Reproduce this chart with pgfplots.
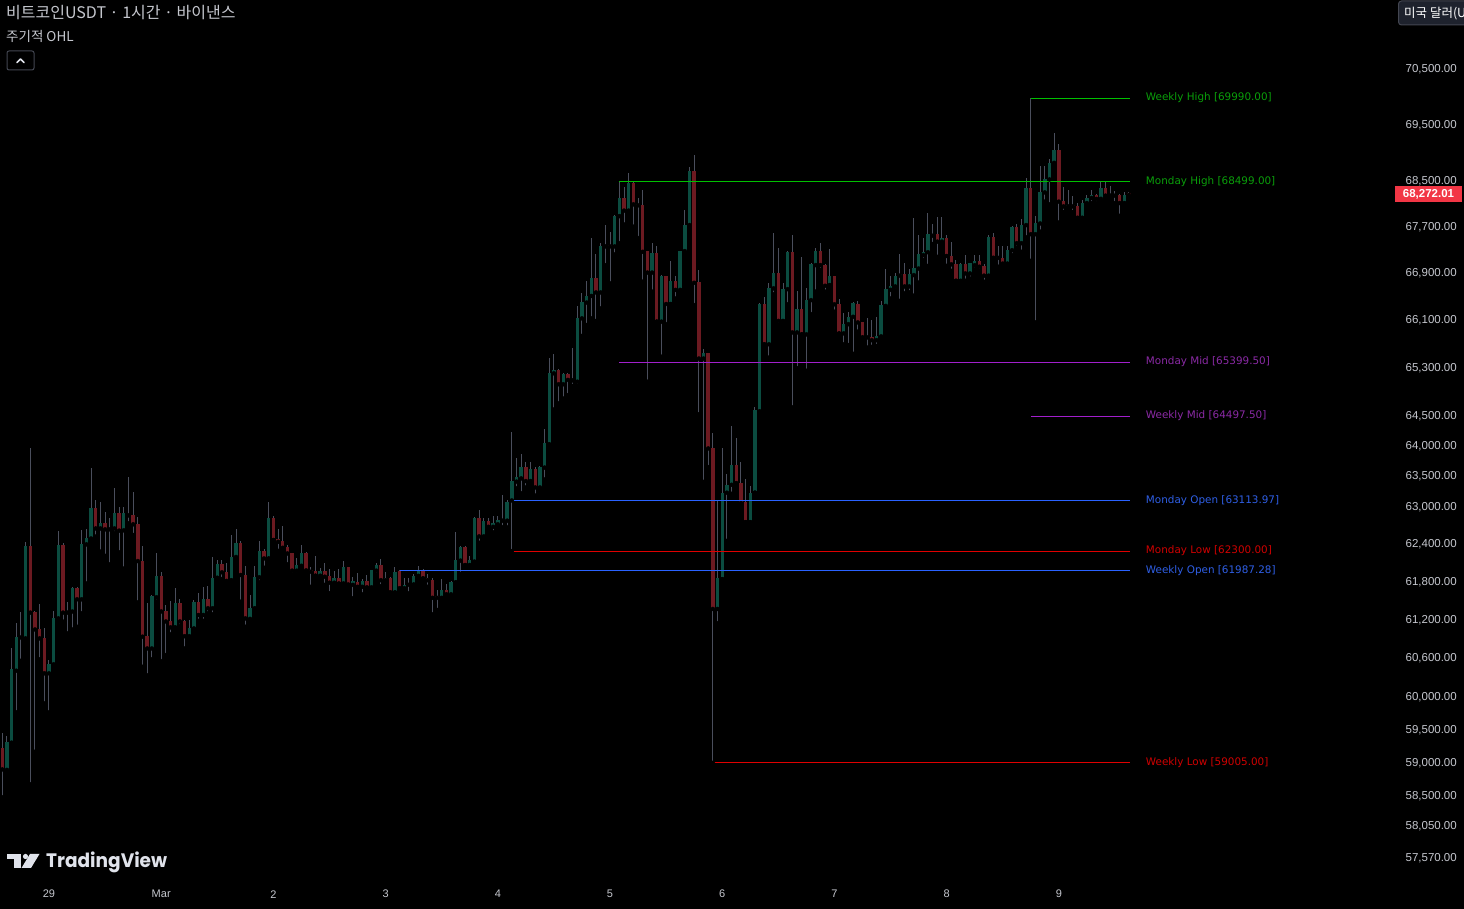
\documentclass[border=0pt]{standalone}
\usepackage{pgfplots}
\pgfplotsset{compat=1.18}
\usepackage{pgfplotstable}
\usepackage{fontspec}
\setmainfont{Liberation Sans}
\newfontfamily\dvs{DejaVu Sans}
\newfontfamily\krf{Noto Sans CJK KR}
\newfontfamily\popf{Poppins}

\definecolor{bg}{HTML}{000000}
\definecolor{upc}{HTML}{0B4C40}
\definecolor{dnc}{HTML}{6C1A21}
\definecolor{wickc}{HTML}{4A4E5C}
\definecolor{txtgray}{HTML}{C5C7CE}
\definecolor{lgreen}{HTML}{00C000}
\definecolor{tgreen}{HTML}{0A9F0A}
\definecolor{lpurple}{HTML}{A21FCC}
\definecolor{tpurple}{HTML}{8B2AA6}
\definecolor{lblue}{HTML}{2962FF}
\definecolor{tblue}{HTML}{2F5FE6}
\definecolor{lred}{HTML}{E00000}
\definecolor{tred}{HTML}{D00000}
\definecolor{pricered}{HTML}{F23645}
\definecolor{btnborder}{HTML}{434651}
\definecolor{btnfill}{HTML}{1E222D}
\definecolor{logoc}{HTML}{E0E3EB}

\pgfplotstableread{
h o hi lo c
-10 59234 59463 58482 58904
-9 58896 59412 58870 59325
-8 59310 60775 59284 60438
-7 60417 61166 59774 60947
-6 60947 61339 60572 60935
-5 60920 62452 60895 62388
-4 62388 63978 58678 61324
-3 61340 61345 59173 61061
-2 61072 61466 60593 60920
-1 60931 61077 59912 60375
0 60375 60583 59774 60521
1 60515 61355 60495 61245
2 61234 62629 61225 62399
3 62404 62425 61182 61324
4 61324 61492 60999 61355
5 61340 61725 61061 61718
6 61718 61725 61104 61534
7 61534 62645 61313 62420
8 62409 62650 61787 62517
9 62505 63650 62452 62984
10 62984 63125 62532 62666
11 62666 63097 62292 62758
12 62758 62935 62228 62650
13 62650 62827 62089 62677
14 62666 63324 62585 62919
15 62919 63016 62281 62629
16 62634 63016 62025 62908
17 62903 63503 62746 62876
18 62882 63259 62560 62730
19 62736 62849 61486 62143
20 62143 62383 60479 60947
21 60962 61477 60344 60764
22 60764 61603 60593 61576
23 61565 62260 61497 61909
24 61909 61973 60568 61344
25 61344 61445 60661 61187
26 61193 61508 60983 61093
27 61093 61718 61088 61477
28 61477 61545 61115 61187
29 61193 61203 60764 60952
30 60952 61209 60931 61088
31 61077 61524 61052 61497
32 61497 61629 61193 61287
33 61287 61734 61193 61540
34 61540 61745 61313 61392
35 61392 62212 61297 61877
36 61877 62159 61841 62100
37 62100 62159 61856 61962
38 61973 62105 61771 61825
39 61835 62553 61825 62207
40 62207 62656 62169 62436
41 62436 62463 61497 61920
42 61920 62068 61104 61234
43 61225 61603 61214 61403
44 61392 62068 61382 61893
45 61882 62463 61803 62303
46 62303 62335 62036 62185
47 62185 63097 62180 62838
48 62838 62870 62475 62479
49 62495 62650 62303 62452
50 62463 62709 62319 62356
51 62367 62399 62089 62260
52 62265 62276 61930 61989
53 61989 62196 61930 62079
54 62068 62399 62052 62276
55 62276 62280 61984 61994
56 62005 62052 61734 61973
57 61989 62228 61905 61909
58 61909 62036 61856 61989
59 61989 62105 61761 61893
60 61909 62015 61629 61798
61 61798 61989 61787 61877
62 61877 62015 61782 61787
63 61787 62148 61782 62052
64 62052 62055 61761 61771
65 61761 61893 61550 61825
66 61814 61957 61692 61734
67 61734 61856 61613 61830
68 61830 61920 61718 61723
69 61723 62005 61708 62000
70 61989 62105 61920 62079
71 62079 62175 61745 61835
72 61835 61973 61803 61877
73 61877 61898 61640 61645
74 61645 62047 61640 61962
75 61987.28 61995 61703 61708
76 61708 61866 61697 61771
77 61766 61866 61629 61787
78 61771 61930 61766 61904
79 61904 62063 61877 61984
80 61984 62025 61862 61866
81 61877 61930 61734 61835
82 61846 61866 61297 61560
83 61576 61687 61366 61560
84 61560 61856 61540 61682
85 61682 61777 61592 61613
86 61613 61820 61592 61814
87 61803 62613 61798 62159
88 62148 62388 61936 62372
89 62372 62388 62075 62079
90 62079 62223 62068 62153
91 62132 62843 62089 62827
92 62827 62962 62436 62537
93 62537 62827 62521 62790
94 62790 62838 62640 62693
95 62693 62870 62601 62746
96 62730 62854 62693 62800
97 62790 63205 62682 62805
98 62790 63125 62682 63097
99 63113.97 64241 62300 63433
100 63422 63814 63313 63492
101 63476 63868 63232 63667
102 63667 63737 63329 63433
103 63433 63748 63368 63623
104 63623 63667 63194 63329
105 63329 63683 63313 63667
106 63650 64280 63459 64049
107 64032 65479 63978 65222
108 65211 65530 64610 65278
109 65278 65294 64710 65027
110 65027 65217 64793 65206
111 65206 65222 64850 65100
112 65105 65630 65000 65095
113 65072 66354 65000 66150
114 66139 66564 65840 66422
115 66410 66782 66026 66525
116 66519 67511 66139 66833
117 66833 67234 66094 66581
118 66581 67424 66308 67385
119 67372 67749 67050 67400
120 67400 67627 66735 67372
121 67372 67910 67234 67906
122 67900 68499 67424 68220
123 68220 68413 67754 67993
124 67993 68660 67990 68480
125 68480 68519 67714 68103
126 68115 68208 67523 68085
127 68091 68355 66764 67281
128 67298 67300 65072 66919
129 66919 67437 66593 67264
130 67264 67367 66078 66082
131 66082 66879 65491 66862
132 66857 66860 66043 66383
133 66383 67120 66380 66775
134 66775 66864 66479 66624
135 66624 67297 66569 67293
136 67293 68005 67238 67745
137 67745 68766 67720 68695
138 68695 68979 66362 66744
139 66758 66969 64529 65459
140 65459 65614 63420 65553
141 65553 65560 63662 63963
142 63963 64228 59005 61379
143 61379 63125 61157 61868
144 61855 63963 61850 63243
145 63243 63549 62465 63373
146 63373 64340 63224 63701
147 63701 64131 63386 63399
148 63405 63747 63070 63073
149 63086 63477 62765 62767
150 62767 63354 62762 63243
151 63243 64655 63240 64594
152 64578 66395 64570 66389
153 66389 66508 65695 65698
154 65698 66735 65479 66662
155 66650 67610 66547 66919
156 66919 67338 66026 66094
157 66094 66752 66090 66639
158 66639 67298 66376 67281
159 67281 67575 64644 65901
160 65901 66606 65295 66298
161 66298 67194 65864 65867
162 65867 66662 65256 66451
163 66445 67091 66213 67062
164 67051 67338 66593 67293
165 67293 67430 66965 67051
166 67051 67079 66593 66696
167 66708 67327 66662 66868
168 66868 66870 66252 66376
169 66383 66462 65880 65884
170 65884 66223 65698 66045
171 66040 66252 65687 66167
172 66167 66422 65536 66394
173 66383 66434 65913 66071
174 66071 66075 65812 65816
175 65828 66150 65647 65816
176 65828 66105 65653 65766
177 65766 66167 65670 65845
178 65834 66440 65815 66366
179 66354 66993 66325 66639
180 66627 66868 66479 66696
181 66685 66907 66616 66868
182 66868 67241 66439 66890
183 66890 67091 66564 66685
184 66685 66993 66581 66890
185 66879 67871 66525 67005
186 66993 67563 66747 67234
187 67223 67523 67137 67281
188 67269 67958 67040 67580
189 67580 67754 67414 67557
190 67580 67888 67194 67454
191 67454 67888 67424 67523
192 67523 67569 67040 67206
193 67206 67454 66953 67062
194 67074 67137 66778 66782
195 66782 67091 66735 67057
196 67057 67223 66782 66907
197 66907 67095 66821 67091
198 67045 67223 66976 67125
199 67125 67223 66953 67022
200 67040 67068 66764 66868
201 66868 67569 66821 67540
202 67540 67610 67125 67182
203 67194 67367 67022 67177
204 67182 67367 67022 67079
205 67079 67378 67068 67310
206 67310 67731 67223 67714
207 67714 67754 67350 67424
208 67424 67859 67281 67743
209 67743 68572 67529 68396
210 68396 69990 67125 67580
211 67580 67906 66071 67784
212 67772 68782 67627 68325
213 68313 68782 68150 68549
214 68543 68912 68103 68836
215 68830 69355 68813 69055
216 69055 69160 67789 68150
217 68162 68413 67975 68063
218 68063 68355 68022 68092
219 68092 68250 67975 68063
220 68080 68120 67841 67871
221 67871 68180 67860 68132
222 68132 68268 68063 68220
223 68214 68355 68120 68268
224 68268 68280 68132 68197
225 68203 68501 68138 68396
226 68396 68513 68250 68256
227 68256 68431 68250 68268
228 68256 68337 68132 68268
229 68268 68290 67906 68132
230 68132 68325 68110 68268
231 68300 68330 68215 68272.01
}\candles

% key levels: start hour, end hour, price
\pgfplotstableread{
x p
210 69990
231.2 69990
}\wkhigh
\pgfplotstableread{
x p
122 68499
231.2 68499
}\mohigh
\pgfplotstableread{
x p
122 65399.5
231.2 65399.5
}\momid
\pgfplotstableread{
x p
210 64497.5
231.2 64497.5
}\wkmid
\pgfplotstableread{
x p
99 63113.97
231.2 63113.97
}\moopen
\pgfplotstableread{
x p
99 62300
231.2 62300
}\molow
\pgfplotstableread{
x p
75 61987.28
231.2 61987.28
}\wkopen
\pgfplotstableread{
x p
142 59005
231.2 59005
}\wklow

\begin{document}
\begin{tikzpicture}[x=1pt,y=1pt]
\fill[bg] (0,0) rectangle (1464,909);
\path[use as bounding box] (0,0) rectangle (1464,909);
% price scale is logarithmic: y = ln(price)
\begin{axis}[
  at={(0pt,27.6pt)}, anchor=south west, scale only axis,
  width=1395pt, height=880pt,
  xmin=-10.48, xmax=287.9,
  ymin=10.954833, ymax=11.180831,
  axis line style={draw=none},
  major tick length=0pt, minor tick length=0pt,
  xtick={0,24,...,216},
  xticklabels={29,Mar,2,3,4,5,6,7,8,9},
  xticklabel style={font=\fontsize{11}{12}\selectfont, text=txtgray, anchor=center, yshift=-12.8pt, inner sep=0pt},
  ytick={10.960756,10.969060,10.976782,10.985292,10.993731,11.002099,11.012050,11.021902,11.031658,11.041320,11.050890,11.058795,11.066638,11.074420,11.086747,11.098924,11.110954,11.122842,11.134589,11.149082,11.163368},
  yticklabels={{57,570.00},{58,050.00},{58,500.00},{59,000.00},{59,500.00},{60,000.00},{60,600.00},{61,200.00},{61,800.00},{62,400.00},{63,000.00},{63,500.00},{64,000.00},{64,500.00},{65,300.00},{66,100.00},{66,900.00},{67,700.00},{68,500.00},{69,500.00},{70,500.00}},
  yticklabel pos=right,
  yticklabel style={font=\fontsize{11.5}{12}\selectfont, text=txtgray, anchor=east, xshift=62pt, inner sep=0pt},
  scaled y ticks=false,
]
% wicks
\addplot[only marks, mark=none,
  error bars/.cd, y dir=plus, y explicit, error mark=none,
  error bar style={line width=1pt, draw=wickc}]
  table[x=h, y expr=ln(\thisrow{lo}), y error expr=ln(\thisrow{hi})-ln(\thisrow{lo})] {\candles};
% up bodies
\addplot[only marks, mark=none,
  restrict expr to domain={\thisrow{c}-\thisrow{o}}{0:100000},
  error bars/.cd, y dir=plus, y explicit, error mark=none,
  error bar style={line width=3.4pt, draw=upc, line cap=butt}]
  table[x=h, y expr=ln(\thisrow{o}), y error expr=ln(\thisrow{c})-ln(\thisrow{o})] {\candles};
% down bodies
\addplot[only marks, mark=none,
  restrict expr to domain={\thisrow{c}-\thisrow{o}}{-100000:-0.0001},
  error bars/.cd, y dir=plus, y explicit, error mark=none,
  error bar style={line width=3.4pt, draw=dnc, line cap=butt}]
  table[x=h, y expr=ln(\thisrow{c}), y error expr=ln(\thisrow{o})-ln(\thisrow{c})] {\candles};

% level lines
\addplot[lgreen, line width=1pt] table[x=x, y expr=ln(\thisrow{p})] {\wkhigh};
\addplot[lgreen, line width=1pt] table[x=x, y expr=ln(\thisrow{p})] {\mohigh};
\addplot[lpurple, line width=1pt] table[x=x, y expr=ln(\thisrow{p})] {\momid};
\addplot[lpurple, line width=1pt] table[x=x, y expr=ln(\thisrow{p})] {\wkmid};
\addplot[lblue, line width=1pt] table[x=x, y expr=ln(\thisrow{p})] {\moopen};
\addplot[lred, line width=1pt] table[x=x, y expr=ln(\thisrow{p})] {\molow};
\addplot[lblue, line width=1pt] table[x=x, y expr=ln(\thisrow{p})] {\wkopen};
\addplot[lred, line width=1pt] table[x=x, y expr=ln(\thisrow{p})] {\wklow};

\tikzset{lvl/.style={anchor=west, inner sep=0pt, font=\dvs\fontsize{10.4}{12}\selectfont}}
\node[lvl, text=tgreen] at (axis cs:234.6,11.156108) {Weekly High [69990.00]};
\node[lvl, text=tgreen] at (axis cs:234.6,11.134574) {Monday High [68499.00]};
\node[lvl, text=tpurple] at (axis cs:234.6,11.088270) {Monday Mid [65399.50]};
\node[lvl, text=tpurple] at (axis cs:234.6,11.074381) {Weekly Mid [64497.50]};
\node[lvl, text=tblue] at (axis cs:234.6,11.052697) {Monday Open [63113.97]};
\node[lvl, text=tred] at (axis cs:234.6,11.039716) {Monday Low [62300.00]};
\node[lvl, text=tblue] at (axis cs:234.6,11.034684) {Weekly Open [61987.28]};
\node[lvl, text=tred] at (axis cs:234.6,10.985377) {Weekly Low [59005.00]};
\end{axis}

% price label
\fill[pricered] (1395,909-186) rectangle (1462,909-202);
\node[text=white, inner sep=0pt, font=\bfseries\fontsize{11.5}{12}\selectfont] at (1428.5,909-194) {68,272.01};

% title block
\node[anchor=base west, inner sep=0pt, text=txtgray, font=\krf\fontsize{16}{17}\selectfont] at (6,909-18.5) {비트코인USDT · 1시간 · 바이낸스};
\node[anchor=base west, inner sep=0pt, text=txtgray, font=\krf\fontsize{13.5}{14}\selectfont] at (6,909-42) {주기적 OHL};
\draw[btnborder, line width=1pt, rounded corners=2pt] (7,909-51) rectangle (34,909-70);
\draw[logoc, line width=1.5pt, line cap=round, line join=round] (17,909-62.5) -- (20.5,909-59) -- (24,909-62.5);

% top right button
\begin{scope}
\clip (0,0) rectangle (1464,909);
\filldraw[fill=btnfill, draw=btnborder, line width=1pt, rounded corners=3pt] (1398.5,909-1) rectangle (1490,909-25);
\node[anchor=base west, inner sep=0pt, text=white, font=\krf\fontsize{12.5}{13}\selectfont] at (1404,909-17.5) {미국 달러(USD)};
\end{scope}

% TradingView logo
\fill[logoc] (7,909-854) rectangle (21,909-859.5);
\fill[logoc] (14,909-859.5) rectangle (21,909-868);
\fill[logoc] (25.5,909-856.5) circle (2.6);
\fill[logoc] (30,909-854) -- (39.5,909-854) -- (31,909-868) -- (21.5,909-868) -- cycle;
\node[anchor=base west, inner sep=0pt, text=logoc, xscale=0.95, font=\popf\bfseries\fontsize{19.5}{20}\selectfont] at (46,909-868) {TradingView};
\end{tikzpicture}
\end{document}
